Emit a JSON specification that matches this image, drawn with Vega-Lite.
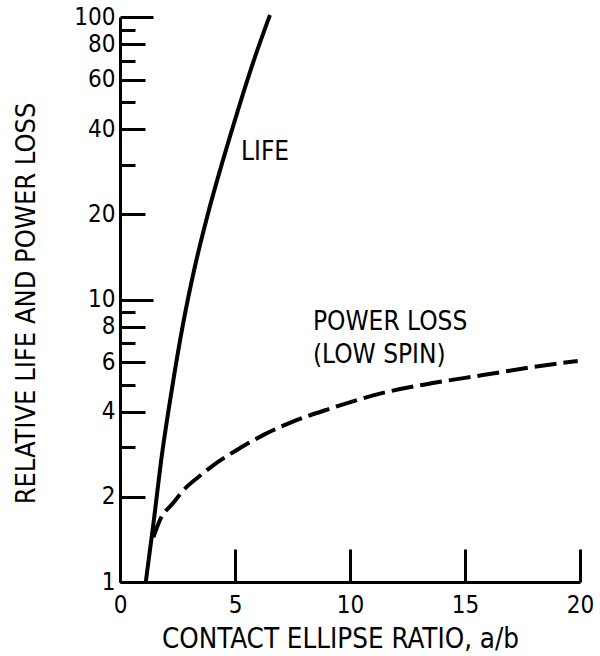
{
  "$schema": "https://vega.github.io/schema/vega-lite/v6.json",
  "width": 460,
  "height": 565,
  "autosize": {"type": "none"},
  "padding": {"left": 120, "top": 17, "right": 20, "bottom": 74},
  "background": "white",
  "config": {
    "view": {"stroke": null},
    "font": "DejaVu Sans Condensed",
    "axis": {
      "grid": false,
      "domainColor": "black",
      "domainWidth": 3,
      "tickColor": "black",
      "tickWidth": 3,
      "labelColor": "black",
      "titleColor": "black",
      "titleFontWeight": "normal",
      "labelFont": "DejaVu Sans Condensed",
      "titleFont": "DejaVu Sans Condensed"
    }
  },
  "datasets": {
    "life": [
      {"ratio": 1.12, "value": 1.0},
      {"ratio": 1.45, "value": 1.6},
      {"ratio": 1.81, "value": 2.77},
      {"ratio": 2.25, "value": 4.78},
      {"ratio": 2.75, "value": 8.26},
      {"ratio": 3.25, "value": 13.0},
      {"ratio": 3.83, "value": 20.2},
      {"ratio": 4.48, "value": 31.2},
      {"ratio": 5.17, "value": 48},
      {"ratio": 5.87, "value": 72.2},
      {"ratio": 6.52, "value": 101.6}
    ],
    "power": [
      {"ratio": 1.45, "value": 1.44},
      {"ratio": 1.74, "value": 1.66},
      {"ratio": 2.3, "value": 1.9},
      {"ratio": 2.9, "value": 2.17},
      {"ratio": 3.4, "value": 2.35},
      {"ratio": 4.2, "value": 2.64},
      {"ratio": 5.22, "value": 2.98},
      {"ratio": 6.22, "value": 3.31},
      {"ratio": 7.39, "value": 3.66},
      {"ratio": 9.1, "value": 4.1},
      {"ratio": 11.43, "value": 4.67},
      {"ratio": 13.6, "value": 5.06},
      {"ratio": 15.78, "value": 5.4},
      {"ratio": 17.96, "value": 5.77},
      {"ratio": 19.9, "value": 6.06}
    ],
    "notes": [
      {"label": "LIFE", "ratio": 5.26, "value": 31.2},
      {"label": "POWER LOSS", "ratio": 8.39, "value": 7.8},
      {"label": "(LOW SPIN)", "ratio": 8.39, "value": 5.96}
    ]
  },
  "layer": [
    {
      "data": {"name": "life"},
      "mark": {"type": "line", "color": "black", "strokeWidth": 4, "interpolate": "monotone"},
      "encoding": {
        "x": {
          "field": "ratio",
          "type": "quantitative",
          "scale": {"domain": [0, 20], "nice": false},
          "axis": {
            "title": "CONTACT ELLIPSE RATIO, a/b",
            "values": [0, 5, 10, 15, 20],
            "tickSize": 0,
            "labelPadding": 11,
            "labelFontSize": 24,
            "labelFlush": false,
            "labelOverlap": false,
            "titleFontSize": 27.5,
            "titleX": 220,
            "titleY": 65,
            "titleAlign": "center",
            "titleBaseline": "alphabetic",
            "encoding": {"ticks": {"y2": {"value": -33}}}
          }
        },
        "y": {
          "field": "value",
          "type": "quantitative",
          "scale": {"type": "log", "domain": [1, 100], "nice": false},
          "axis": {
            "title": "RELATIVE LIFE AND POWER LOSS",
            "values": [1, 2, 3, 4, 5, 6, 7, 8, 9, 10, 20, 30, 40, 50, 60, 70, 80, 90, 100],
            "labelExpr": "indexof([1,2,4,6,8,10,20,40,60,80,100], datum.value) >= 0 ? '' + datum.value : ''",
            "tickSize": 0,
            "labelPadding": 5,
            "labelFontSize": 24,
            "labelFlush": false,
            "labelOverlap": false,
            "titleFontSize": 27,
            "titleAngle": -90,
            "titleX": -86,
            "titleY": 286,
            "titleAlign": "center",
            "titleBaseline": "alphabetic",
            "encoding": {"ticks": {"x2": {"value": {"expr": "datum.value == 10 || datum.value == 100 ? 33 : (indexof([2,4,6,8,20,40,60,80], datum.value) >= 0 ? 25 : 15)"}}}}
          }
        }
      }
    },
    {
      "data": {"name": "power"},
      "mark": {"type": "line", "color": "black", "strokeWidth": 4, "strokeDash": [22, 7], "interpolate": "monotone"},
      "encoding": {
        "x": {"field": "ratio", "type": "quantitative"},
        "y": {"field": "value", "type": "quantitative"}
      }
    },
    {
      "data": {"name": "notes"},
      "mark": {"type": "text", "align": "left", "baseline": "alphabetic", "fontSize": 26, "color": "black", "font": "DejaVu Sans Condensed"},
      "encoding": {
        "x": {"field": "ratio", "type": "quantitative"},
        "y": {"field": "value", "type": "quantitative"},
        "text": {"field": "label"}
      }
    }
  ]
}
